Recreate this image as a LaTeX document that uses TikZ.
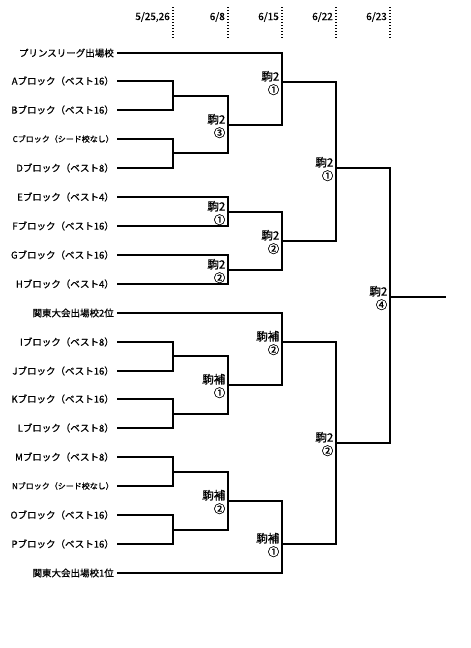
\documentclass[tikz,border=0pt]{standalone}
\usepackage{fontspec}
\setmainfont{Noto Sans CJK JP}[FakeBold=0.8]
\begin{document}
\begin{tikzpicture}[x=1pt,y=-1pt,
  br/.style={line width=2pt, line join=miter, line cap=rect},
  ent/.style={anchor=east, inner sep=0pt, font=\fontsize{9.5}{11}\selectfont},
  ents/.style={anchor=east, inner sep=0pt, font=\fontsize{8}{10}\selectfont},
  res/.style={anchor=east, inner sep=0pt, align=right, font=\fontsize{11.5}{13.5}\selectfont},
  dt/.style={anchor=east, inner sep=0pt, font=\fontsize{10}{11}\selectfont},
  dotl/.style={line width=1.4pt, dash pattern=on 1.4pt off 1.6pt}]
\useasboundingbox (0,0) rectangle (471,648);

% date headers
\foreach \n/\x/\t in {d1/173/{5/25,26}, d2/228/{6/8}, d3/282/{6/15}, d4/336/{6/22}, d5/390/{6/23}}{
  \node[dt] (\n) at (\x-3,17) {\t};
  \coordinate (\n a) at (\x,7);
  \coordinate (\n b) at (\x,39);
  \draw[dotl] (\n a) -- (\n b);
}

% entries
\foreach \n/\y/\t in {
  pr/53/{プリンスリーグ出場校},
  A/81/{Aブロック（ベスト16）},
  B/110/{Bブロック（ベスト16）},
  D/168/{Dブロック（ベスト8）},
  E/197/{Eブロック（ベスト4）},
  F/226/{Fブロック（ベスト16）},
  G/255/{Gブロック（ベスト16）},
  H/284/{Hブロック（ベスト4）},
  k2/313/{関東大会出場校2位},
  I/342/{Iブロック（ベスト8）},
  J/371/{Jブロック（ベスト16）},
  K/399/{Kブロック（ベスト16）},
  L/428/{Lブロック（ベスト8）},
  M/457/{Mブロック（ベスト8）},
  O/515/{Oブロック（ベスト16）},
  P/544/{Pブロック（ベスト16）},
  k1/573/{関東大会出場校1位}}{
  \node[ent] (n\n) at (114,\y) {\t};
  \coordinate (e\n) at (118,\y);
}
\foreach \n/\y/\t in {
  C/139/{Cブロック（シード校なし）},
  N/486/{Nブロック（シード校なし）}}{
  \node[ents] (n\n) at (114,\y) {\t};
  \coordinate (e\n) at (118,\y);
}

% match junctions
\coordinate (m1) at (173,96);
\coordinate (m2) at (173,153);
\coordinate (m3) at (173,356);
\coordinate (m4) at (173,414);
\coordinate (m5) at (173,472);
\coordinate (m6) at (173,530);
\coordinate (q1) at (228,125);
\coordinate (q2) at (228,212);
\coordinate (q3) at (228,270);
\coordinate (q4) at (228,385);
\coordinate (q5) at (228,501);
\coordinate (s1) at (282,82);
\coordinate (s2) at (282,241);
\coordinate (s3) at (282,342);
\coordinate (s4) at (282,544);
\coordinate (t1) at (336,168);
\coordinate (t2) at (336,443);
\coordinate (f)  at (390,297);
\coordinate (fe) at (445,297);

% connectors
\draw[br] (eA) -| (m1); \draw[br] (eB) -| (m1);
\draw[br] (eC) -| (m2); \draw[br] (eD) -| (m2);
\draw[br] (eI) -| (m3); \draw[br] (eJ) -| (m3);
\draw[br] (eK) -| (m4); \draw[br] (eL) -| (m4);
\draw[br] (eM) -| (m5); \draw[br] (eN) -| (m5);
\draw[br] (eO) -| (m6); \draw[br] (eP) -| (m6);
\draw[br] (m1) -| (q1); \draw[br] (m2) -| (q1);
\draw[br] (eE) -| (q2); \draw[br] (eF) -| (q2);
\draw[br] (eG) -| (q3); \draw[br] (eH) -| (q3);
\draw[br] (m3) -| (q4); \draw[br] (m4) -| (q4);
\draw[br] (m5) -| (q5); \draw[br] (m6) -| (q5);
\draw[br] (epr) -| (s1); \draw[br] (q1) -| (s1);
\draw[br] (q2) -| (s2); \draw[br] (q3) -| (s2);
\draw[br] (ek2) -| (s3); \draw[br] (q4) -| (s3);
\draw[br] (q5) -| (s4); \draw[br] (ek1) -| (s4);
\draw[br] (s1) -| (t1); \draw[br] (s2) -| (t1);
\draw[br] (s3) -| (t2); \draw[br] (s4) -| (t2);
\draw[br] (t1) -| (f); \draw[br] (t2) -| (f);
\draw[br] (f) -- (fe);

% result labels
\node[res] (lq1) at (225.5,126) {駒2\\③};
\node[res] (lq2) at (225.5,213) {駒2\\①};
\node[res] (lq3) at (225.5,271) {駒2\\②};
\node[res] (lq4) at (225.5,386) {駒補\\①};
\node[res] (lq5) at (225.5,502) {駒補\\②};
\node[res] (ls1) at (279.5,83) {駒2\\①};
\node[res] (ls2) at (279.5,242) {駒2\\②};
\node[res] (ls3) at (279.5,343) {駒補\\②};
\node[res] (ls4) at (279.5,545) {駒補\\①};
\node[res] (lt1) at (333.5,169) {駒2\\①};
\node[res] (lt2) at (333.5,444) {駒2\\②};
\node[res] (lf)  at (387.5,298) {駒2\\④};
\end{tikzpicture}
\end{document}
